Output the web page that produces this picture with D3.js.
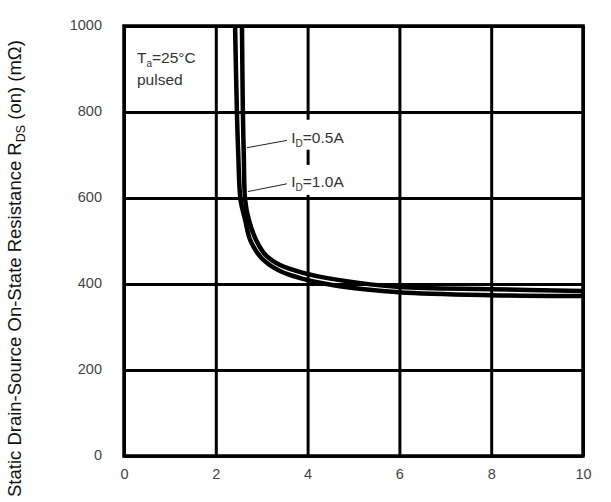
<!DOCTYPE html>
<html>
<head>
<meta charset="utf-8">
<script src="https://cdn.jsdelivr.net/npm/d3@7"></script>
<style>
  body { margin: 0; background: #fff; }
  svg { display: block; font-family: "Liberation Sans", Arial, sans-serif; }
</style>
</head>
<body>
<svg id="chart" width="611" height="502"></svg>
<script>
// gate-source voltage (V) vs on-state resistance (mOhm)
const vgsLow = [2.42, 2.46, 2.49, 2.54, 2.64, 2.75, 3.0, 3.4, 3.9, 4.7, 6.0, 8.0, 10];
const rdsLow = [1000, 800, 700, 595, 549, 502, 460, 430, 412, 395, 381, 374, 372];
const vgsHigh = [2.57, 2.59, 2.61, 2.64, 2.72, 2.88, 3.09, 3.4, 3.9, 4.7, 6.0, 8.0, 10];
const rdsHigh = [1000, 800, 700, 595, 549, 502, 467, 444, 426, 409, 393, 388, 384];

const xTicks = [0, 2, 4, 6, 8, 10];
const yTicks = [0, 200, 400, 600, 800, 1000];

const margin = { left: 124, top: 26 };
const width = 459;
const height = 430;

const svg = d3.select("#chart");
const g = svg.append("g")
    .attr("transform", `translate(${margin.left},${margin.top})`);

const x = d3.scaleLinear().domain([0, 10]).range([0, width]);
const y = d3.scaleLinear().domain([0, 1000]).range([height, 0]);

// grid + ticks
const xAxis = g.append("g")
    .attr("transform", `translate(0,${height})`)
    .call(d3.axisBottom(x).tickValues(xTicks).tickFormat(d3.format("d"))
        .tickSize(-height).tickPadding(13));
const yAxis = g.append("g")
    .call(d3.axisLeft(y).tickValues(yTicks).tickFormat(d3.format("d"))
        .tickSize(-width).tickPadding(22));

[xAxis, yAxis].forEach(ax => {
    ax.attr("font-size", null).attr("font-family", null);
    ax.select(".domain").remove();
    ax.selectAll("line").attr("stroke", "#000").attr("stroke-width", 3);
    ax.selectAll("text")
        .attr("fill", "#444")
        .style("font-size", "14.5px");
});
yAxis.selectAll("text").attr("dy", "0.25em");

g.append("rect")
    .attr("width", width).attr("height", height)
    .attr("fill", "none").attr("stroke", "#000").attr("stroke-width", 3.5);

// white boxes behind the current labels
g.append("rect").attr("x", x(3.6)).attr("y", y(782)).attr("width", 68).attr("height", 30).attr("fill", "#fff");
g.append("rect").attr("x", x(3.6)).attr("y", y(677)).attr("width", 68).attr("height", 30).attr("fill", "#fff");

// curves
g.append("clipPath").attr("id", "clip")
    .append("rect").attr("width", width).attr("height", height);

const line = d3.line()
    .x(d => x(d[0]))
    .y(d => y(d[1]))
    .curve(d3.curveCatmullRom.alpha(0.5));

[[vgsLow, rdsLow], [vgsHigh, rdsHigh]].forEach(([vs, rs]) => {
    g.append("path")
        .datum(vs.map((v, i) => [v, rs[i]]))
        .attr("clip-path", "url(#clip)")
        .attr("fill", "none")
        .attr("stroke", "#000")
        .attr("stroke-width", 4.5)
        .attr("d", line);
});

// labels
const labelFont = "15.5px";
const ta = g.append("text").attr("x", 13).attr("y", 37)
    .attr("fill", "#333").style("font-size", labelFont);
ta.append("tspan").text("T");
ta.append("tspan").attr("dy", 4).style("font-size", "10px").text("a");
ta.append("tspan").attr("dy", -4).text("=25°C");
g.append("text").attr("x", 13).attr("y", 59)
    .attr("fill", "#333").style("font-size", labelFont).text("pulsed");

const idLabels = [
    { text: "=0.5A", tx: 3.6, ty: 728, lx1: 2.68, ly1: 717, lx2: 3.55, ly2: 734 },
    { text: "=1.0A", tx: 3.6, ty: 626, lx1: 2.7, ly1: 615, lx2: 3.55, ly2: 633 }
];
idLabels.forEach(d => {
    g.append("line")
        .attr("x1", x(d.lx1)).attr("y1", y(d.ly1))
        .attr("x2", x(d.lx2)).attr("y2", y(d.ly2))
        .attr("stroke", "#222").attr("stroke-width", 1);
    const t = g.append("text").attr("x", x(d.tx) + 2).attr("y", y(d.ty))
        .attr("fill", "#333").style("font-size", labelFont);
    t.append("tspan").text("I");
    t.append("tspan").attr("dy", 4).style("font-size", "10px").text("D");
    t.append("tspan").attr("dy", -4).text(d.text);
});

// y axis title
const title = svg.append("text")
    .attr("transform", "translate(21,497) rotate(-90)")
    .attr("fill", "#111")
    .style("font-size", "18.5px");
title.append("tspan").text("Static Drain-Source On-State Resistance R");
title.append("tspan").attr("dy", 4).style("font-size", "12.5px").text("DS");
title.append("tspan").attr("dy", -4).text(" (on) (mΩ)");
</script>
</body>
</html>
